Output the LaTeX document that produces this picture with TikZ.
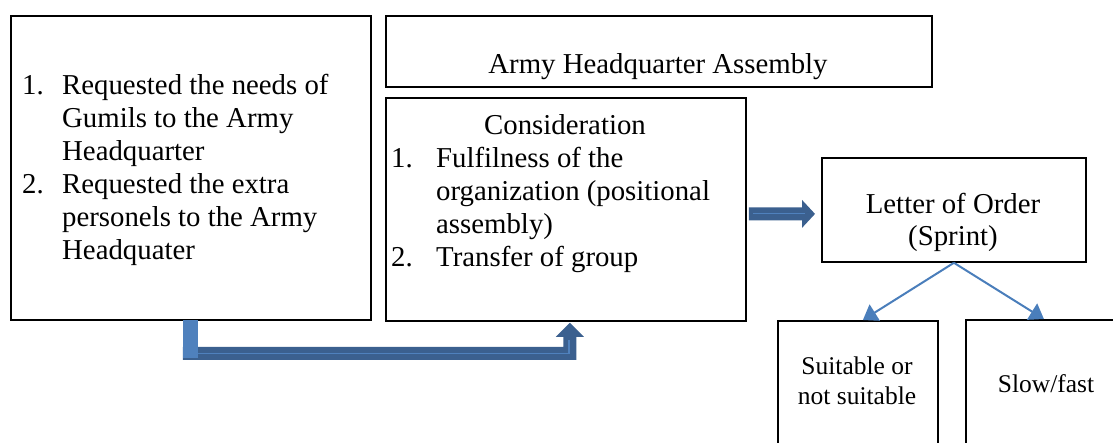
\documentclass[tikz,border=0pt]{standalone}
\usepackage{fontspec}
\setmainfont{Liberation Serif}
\usetikzlibrary{arrows.meta,calc}
\definecolor{darkblue}{RGB}{59,96,143}
\definecolor{lightblue}{RGB}{79,129,189}
\definecolor{lineblue}{RGB}{74,126,187}
\tikzset{
  box/.style={draw=black,line width=1.8pt,anchor=north west,inner sep=0pt,minimum width=#1},
  big/.style={font=\fontsize{28.8}{33}\selectfont,inner sep=0pt},
  small/.style={font=\fontsize{25.5}{30}\selectfont,inner sep=0pt},
  thinarrow/.style={draw=lineblue,line width=2pt,-{Triangle[width=19pt,length=14pt]}},
}
\begin{document}
\begin{tikzpicture}[x=1pt,y=-1pt]
\useasboundingbox (0,0) rectangle (1113,443);
% boxes
\node[box=360pt,minimum height=304pt] (req) at (10,15) {};
\node[box=546pt,minimum height=71pt] (hq) at (385,15) {};
\node[box=360pt,minimum height=223pt] (cons) at (385,97) {};
\node[box=264pt,minimum height=104pt] (letter) at (821,157) {};
\node[box=160pt,minimum height=140pt] (suit) at (777,320) {};
\node[box=160pt,minimum height=140pt] (slow) at (965,319) {};
% left box text
\node[big,anchor=base west] (n1) at (22,95) {1.};
\node[big,anchor=base west] (a1) at (62,95) {Requested the needs of};
\node[big,anchor=base west] (a2) at (62,128) {Gumils to the Army};
\node[big,anchor=base west] (a3) at (62,161) {Headquarter};
\node[big,anchor=base west] (n2) at (22,194) {2.};
\node[big,anchor=base west] (a4) at (62,194) {Requested the extra};
\node[big,anchor=base west] (a5) at (62,227) {personels to the Army};
\node[big,anchor=base west] (a6) at (62,260) {Headquater};
% HQ
\node[big,anchor=base] (hqt) at (658,74) {Army Headquarter Assembly};
% consideration
\node[big,anchor=base] (ct) at (565,135) {Consideration};
\node[big,anchor=base west] (m1) at (391,168) {1.};
\node[big,anchor=base west] (c1) at (436,168) {Fulfilness of the};
\node[big,anchor=base west] (c2) at (436,201) {organization (positional};
\node[big,anchor=base west] (c3) at (436,234) {assembly)};
\node[big,anchor=base west] (m2) at (391,267) {2.};
\node[big,anchor=base west] (c4) at (436,267) {Transfer of group};
% letter
\node[big,anchor=base] (lt1) at (953,214) {Letter of Order};
\node[big,anchor=base] (lt2) at (953,246) {(Sprint)};
% bottom boxes
\node[small,anchor=base] (s1) at (857,374) {Suitable or};
\node[small,anchor=base] (s2) at (857,404) {not suitable};
\node[small,anchor=base] (f1) at (1046,392) {Slow/fast};
% thin arrows
\draw[thinarrow] (letter.south) -- ($(suit.north)+(5,0)$);
\draw[thinarrow] (letter.south) -- ($(slow.north)+(-2,0)$);
% block arrow cons -> letter
\coordinate (b1) at ($(letter.west)+(-6,4)$);
\coordinate (b0) at ($(cons.east |- b1)+(2,0)$);
\fill[darkblue] ($(b0)+(0,-6.5)$) -- ($(b1)+(-13,-6.5)$) -- ($(b1)+(-13,-14)$) -- (b1)
  -- ($(b1)+(-13,14)$) -- ($(b1)+(-13,6.5)$) -- ($(b0)+(0,6.5)$) -- cycle;
\draw[lightblue,line width=0.8pt] ($(b0)+(4,0)$) -- ($(b1)+(-10,0)$);
% bent block arrow req -> cons
\coordinate (r0) at ($(req.south)+(-0.5,0)$);
\coordinate (t0) at ($(cons.south)+(4,1)$);
\coordinate (hb) at ($(r0)+(0,39)$);
\fill[darkblue] ($(r0)+(-7.5,26)$) -- ($(t0 |- r0)+(-6.5,26)$) -- ($(t0)+(-6.5,14)$) -- ($(t0)+(-14,14)$)
  -- (t0) -- ($(t0)+(14,14)$) -- ($(t0)+(6.5,14)$) -- ($(t0 |- hb)+(6.5,0)$) -- ($(hb)+(-7.5,0)$) -- cycle;
\fill[lightblue] ($(r0)+(-7.5,-1)$) rectangle ($(r0)+(7.5,37)$);
\draw[lightblue,line width=1.2pt] ($(r0)+(7.5,32.5)$) -- ($(t0 |- r0)+(-1,32.5)$) -- ($(t0)+(-1,17)$);
\end{tikzpicture}
\end{document}
